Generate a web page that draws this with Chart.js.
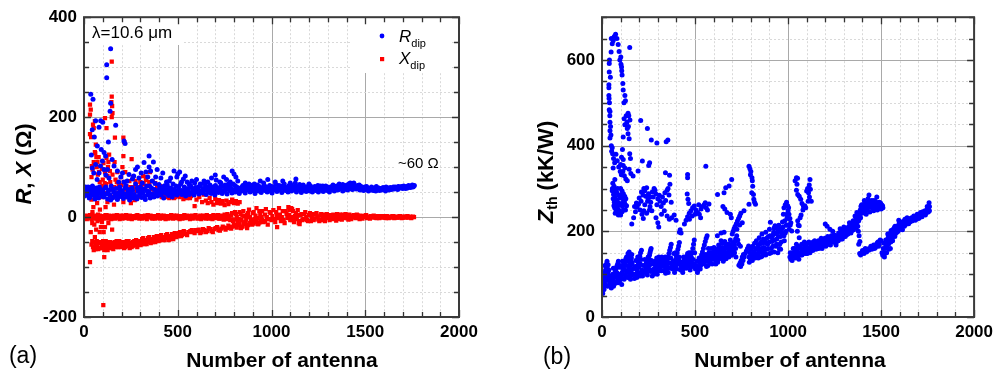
<!DOCTYPE html>
<html><head><meta charset="utf-8">
<script src="https://cdn.jsdelivr.net/npm/chart.js@4.4.1/dist/chart.umd.min.js"></script>
<style>
html,body{margin:0;padding:0;background:#fff;}
#wrap{position:relative;width:998px;height:377px;overflow:hidden;}
canvas{position:absolute;left:0;top:0;}
</style></head><body>
<div id="wrap"><canvas id="ca" width="998" height="377"></canvas><canvas id="cb" width="998" height="377"></canvas></div>
<script>
// ---- tick labels ----
const antennaTicks = [0, 500, 1000, 1500, 2000];
const rxTicks = [-200, 0, 200, 400];
const zTicks = [0, 200, 400, 600];

// ---- series (flat x,y pairs) : antenna number, value ----
const R_DIP = [
5,48, 10,55, 12,44, 18,52, 22,60, 25,46, 30,53, 33,40, 38,57, 42,49, 45,62, 50,44, 55,54, 58,36, 62,50, 66,58, 70,45, 75,53, 78,38, 82,60, 86,48, 90,55, 94,42, 98,51,
0,50, 3,42, 8,60, 15,47, 28,38, 35,50, 52,58, 68,40, 84,54, 96,46,
36,246, 48,236, 142,337, 121,305, 121,279, 142,228, 139,212, 62,193, 89,193, 44,175, 169,184, 213,152, 219,147, 71,142, 39,124, 107,129, 115,122, 347,122, 320,109, 80,180, 100,190, 55,160, 92,135, 130,150,
44,98, 62,105, 80,88, 98,112, 107,95, 116,84, 133,78, 160,102, 178,92, 196,80, 213,70, 240,85, 258,76, 275,95, 293,78, 311,68, 330,90, 347,100, 364,72, 382,80, 400,65, 420,88, 440,70, 462,78, 480,92, 500,86, 520,70, 540,82, 560,66, 600,75, 640,72, 680,78, 700,84, 730,68, 760,75, 790,92, 800,86, 810,80, 820,72, 780,70, 860,68, 900,64, 940,72, 980,75, 1020,70, 1060,72, 1100,68, 1130,76, 1150,65, 1200,66, 1260,62, 1320,60, 1380,65, 1420,68, 1470,62,
52,88, 70,75, 88,102, 125,95, 150,115, 185,70, 205,88, 230,72, 265,82, 285,100, 305,88, 340,80, 355,92, 370,110, 390,95, 410,78, 430,62, 455,72, 475,66, 495,80, 510,90, 530,76, 550,70, 575,72, 590,68, 620,66, 660,70, 705,74, 745,80, 770,66,
100,52, 106,40, 113,58, 119,46, 126,36, 132,54, 139,44, 145,62, 152,38, 158,50, 165,42, 171,57, 178,35, 184,48, 191,60, 197,41, 204,52, 210,37, 217,46, 223,63, 230,40, 236,55, 243,34, 249,49, 256,58, 262,38, 269,45, 275,66, 282,36, 288,52, 295,43, 301,60, 308,39, 314,48, 321,56, 327,35, 334,62, 340,44, 347,50, 353,38, 360,58, 366,46, 373,40, 379,67, 386,52, 392,42, 399,48, 405,60, 412,44, 418,53, 425,38, 431,56, 438,47, 444,64, 451,43, 457,51, 464,58, 470,40, 477,53, 483,46, 490,62, 496,44, 503,55, 509,48, 516,66, 522,45, 529,52, 535,60, 542,42, 548,50, 555,57, 561,45, 568,63, 574,48, 581,53, 587,44, 594,59, 600,50, 607,56, 613,46, 620,62, 626,51, 633,48, 639,67, 646,54, 652,45, 659,58, 665,50, 672,64, 678,47, 685,55, 691,60, 698,44, 704,52, 711,58, 717,49, 724,70, 730,54, 737,47, 743,61, 750,52, 756,57, 763,46, 769,63, 776,53, 782,58, 789,48, 795,66, 802,55, 808,50, 815,60, 821,53, 828,47, 834,58, 841,52, 847,63, 854,55, 860,48, 867,60, 873,54, 880,66, 886,50, 893,58, 899,53, 906,62, 912,47, 919,57, 925,64, 932,52, 938,59, 945,49, 951,56, 958,68, 964,53, 971,60, 977,50, 984,57, 990,63, 997,54, 1003,48, 1010,60, 1016,55, 1023,65, 1029,51, 1036,58, 1042,54, 1049,62, 1055,49, 1062,57, 1068,66, 1075,53, 1081,59, 1088,50, 1094,63, 1101,56, 1107,52, 1114,61, 1120,55, 1127,68, 1133,50, 1140,58, 1146,54, 1153,62, 1159,49, 1166,57, 1172,53, 1179,60, 1185,51, 1192,56, 1198,63, 1205,52, 1211,58, 1218,50, 1224,55, 1231,61, 1237,53, 1244,57, 1250,50, 1257,60, 1263,54, 1270,58, 1276,51, 1283,56, 1289,62, 1296,53, 1302,57, 1309,50, 1315,60, 1322,55, 1328,64, 1335,52, 1341,58, 1348,62, 1354,54, 1361,66, 1367,56, 1374,60, 1380,52, 1387,63, 1393,57, 1400,61, 1406,54, 1413,66, 1419,58, 1426,62, 1432,55, 1439,68, 1445,59, 1452,56, 1458,63, 1465,58, 1471,54, 1478,61, 1484,57, 1491,53, 1497,60, 1504,55, 1510,58, 1517,52, 1523,56, 1530,54, 1536,59, 1543,53, 1549,57, 1556,52, 1562,58, 1569,55, 1575,53, 1582,57, 1588,54, 1595,59, 1601,55, 1608,52, 1614,58, 1621,56, 1627,54, 1634,59, 1640,55, 1647,58, 1653,56, 1660,60, 1666,57, 1673,55, 1679,60, 1686,58, 1692,61, 1699,57, 1705,62, 1712,59, 1718,61, 1725,58, 1731,63, 1738,60, 1744,62, 1751,64, 1757,61, 1762,63,
103,45, 116,60, 129,50, 142,34, 155,55, 168,47, 181,40, 194,55, 207,44, 220,58, 233,48, 246,42, 259,53, 272,40, 285,58, 298,47, 311,54, 324,42, 337,52, 350,62, 363,44, 376,55, 389,47,
403,56, 416,49, 428,62, 441,52, 454,58, 467,47, 480,55, 493,50, 506,61, 519,53, 532,47, 545,56, 558,51, 571,59, 584,49, 597,54, 610,60, 623,52, 636,57, 649,62, 662,53, 675,58, 688,50, 701,63, 714,55, 727,60, 740,51, 753,64, 766,56, 779,61, 792,53, 805,63, 818,57, 831,52, 844,60, 857,64, 870,57, 883,61, 896,55, 909,66, 922,53, 935,61, 948,58, 961,63, 974,56, 987,52, 1000,61, 1013,57, 1026,53, 1039,63, 1052,58, 1065,61, 1078,55, 1091,58, 1104,64, 1117,57, 1130,62, 1143,55, 1156,59, 1169,64, 1182,56, 1195,59, 1208,62, 1221,57, 1234,54, 1247,63, 1260,57, 1273,62, 1286,55, 1299,60, 1312,56, 1325,59, 1338,55, 1351,60, 1364,59, 1377,63, 1390,55, 1403,64, 1416,60, 1429,56, 1442,62, 1455,60, 1468,64, 1481,59, 1494,56, 1507,61, 1520,57, 1533,60, 1546,56, 1559,61, 1572,58, 1585,55, 1598,57, 1611,60, 1624,58, 1637,57, 1650,60, 1663,58, 1676,61, 1689,59, 1702,60, 1715,57, 1728,61, 1741,59, 1754,60
];

const X_DIP = [
32,225, 36,215, 32,205, 32,166, 38,160, 48,185, 52,178, 58,192, 112,198, 120,178, 148,311, 148,241, 146,230, 150,222, 152,208, 148,200, 165,159, 210,159, 215,150, 210,122, 254,116, 103,-176, 32,-90, 108,-80,
60,128, 66,120, 72,110, 42,102, 80,90, 95,96, 120,118, 130,110, 138,92, 100,75, 110,68, 125,82, 160,60, 175,70, 190,52, 200,64, 220,55, 240,45, 265,60, 280,52, 300,70, 315,82, 330,74, 345,62, 360,56, 375,48, 390,60, 325,55, 310,48, 290,40, 270,34, 250,28, 230,40, 210,30, 180,38, 160,25, 140,42, 125,30, 115,20, 95,50, 85,15, 70,28, 60,40, 50,20, 45,10, 75,5, 40,35, 55,-15, 65,-25, 90,-20, 105,-30,
35,60, 40,80, 46,95, 52,110, 58,130, 63,145, 68,100, 74,85, 78,120, 84,70, 88,55, 92,40, 98,62, 104,108, 112,90, 118,66, 124,48, 128,100, 134,125, 140,70, 146,55, 152,85, 158,40, 163,110, 168,75, 172,48, 178,90, 185,62, 192,45, 198,80, 205,100, 212,70, 220,90, 226,62, 234,50, 242,72, 248,60, 256,45, 262,80, 275,72, 286,60, 296,52, 305,62, 318,66, 336,80, 348,70, 352,90, 366,72, 380,68, 395,50, 405,62, 415,40, 425,48, 435,55, 445,46, 455,38, 465,50, 475,44, 485,40, 495,46, 505,42, 515,52, 525,44, 535,48, 545,40, 555,44, 565,38,
36,-30, 44,-12, 58,-40, 72,-8, 84,-30, 96,-10, 112,-20, 130,-12, 150,-25,
400,50, 410,44, 420,56, 430,46, 440,40, 450,52, 460,43, 470,48, 480,38, 490,45, 500,50, 510,40, 520,47, 530,36, 540,44, 550,38, 560,46, 570,42, 590,22, 600,35, 615,40, 630,30, 640,45, 650,33, 660,28, 670,38, 680,30, 690,25, 700,36, 710,28, 720,34, 730,27, 740,32, 750,24, 760,33, 770,26, 780,30, 790,35, 800,28, 810,32, 820,27, 830,30,
0,-3, 10,2, 20,-1, 30,4, 40,-4, 50,1, 60,-2, 70,3, 80,0, 90,-5, 100,2, 110,-1, 120,4, 130,-3, 140,1, 150,-2, 160,3, 170,-1, 180,2, 190,-4, 200,0, 210,3, 220,-2, 230,1, 240,-3, 250,2, 260,0, 270,-2, 280,3, 290,-1, 300,1, 310,-3, 320,2, 330,-1, 340,4, 350,0, 360,-2, 370,2, 380,-3, 390,1, 400,-1, 410,3, 420,-2, 430,0, 440,2, 450,-3, 460,1, 470,-1, 480,3, 490,-2, 500,1, 510,-4, 520,2, 530,0, 540,-2, 550,3, 560,-1, 570,1, 580,-3, 590,2, 600,0, 610,-2, 620,3, 630,-1, 640,1, 650,-3, 660,2, 670,0, 680,-2, 690,4, 700,-1, 710,1, 720,-3, 730,3, 740,-2, 750,5, 760,-4, 770,2, 780,-6, 790,8, 800,-5, 810,6, 820,-8, 830,10, 840,-6, 850,12, 860,-10, 870,4, 880,15, 890,-12, 900,8, 910,-4, 920,18, 930,-14, 940,6, 950,12, 960,-8, 970,16, 980,-15, 990,10, 1000,-6, 1010,14, 1020,-10, 1030,4, 1040,18, 1050,-8, 1060,12, 1070,-12, 1080,6, 1090,20, 1100,-6, 1110,16, 1120,-10, 1130,8, 1140,14, 1150,-8, 1160,6, 1170,-4, 1180,10, 1190,-6, 1200,4, 1210,-8, 1220,6, 1230,-3, 1240,8, 1250,-5, 1260,3, 1270,-6, 1280,5, 1290,-2, 1300,4, 1310,-6, 1320,2, 1330,5, 1340,-3, 1350,6, 1360,-4, 1370,2, 1380,5, 1390,-2, 1400,4, 1410,-5, 1420,3, 1430,1, 1440,4, 1450,-2, 1460,3, 1470,-4, 1480,2, 1490,0, 1500,3, 1510,-2, 1520,1, 1530,2, 1540,-1, 1550,1, 1560,-2, 1570,0, 1580,2, 1590,-1, 1600,1, 1610,-2, 1620,0, 1630,1, 1640,-1, 1650,2, 1660,0, 1670,-1, 1680,1, 1690,0, 1700,-1, 1710,1, 1720,0, 1730,-1, 1740,1, 1750,0, 1760,0,
5,3, 15,-4, 25,2, 35,-2, 45,5, 55,-3, 65,2, 75,-4, 85,3, 95,1, 105,-3, 115,4, 125,-2, 135,3, 145,-4, 155,2, 165,-3, 175,4, 185,-1, 195,3, 205,-3, 215,1, 225,4, 235,-2, 245,3, 255,-4, 265,2, 275,-1, 285,4, 295,-3, 305,2, 315,-1, 325,3, 335,-4, 345,1, 355,3, 365,-3, 375,2, 385,-1, 395,4, 405,-3, 415,1, 425,3, 435,-4, 445,2, 455,-1, 465,4, 475,-3, 485,1, 495,3, 505,-2, 515,2, 525,-3, 535,4, 545,-1, 555,2, 565,-4, 575,3, 585,-1, 595,4, 605,-3, 615,1, 625,-4, 635,3, 645,-1, 655,4, 665,-3, 675,2, 685,-4, 695,3, 705,-2, 715,4, 725,-3, 735,2, 745,-5, 755,3, 765,6, 775,-3, 785,3, 795,-8, 805,10, 815,0, 825,-4, 835,6, 845,3,
1155,4, 1165,-6, 1175,6, 1185,0, 1195,-8, 1205,8, 1215,0, 1225,-6, 1235,5, 1245,0, 1255,-8, 1265,6, 1275,-2, 1285,-8, 1295,6, 1305,0, 1315,4, 1325,-4, 1335,1, 1345,-7, 1355,2, 1365,5, 1375,-5, 1385,2, 1395,6, 1405,-2, 1415,5, 1425,-4, 1435,-1, 1445,2, 1455,5, 1465,-1, 1475,3, 1485,-3, 1495,2, 1505,4, 1515,-1, 1525,-3, 1535,1, 1545,3, 1555,-1, 1565,2, 1575,-2, 1585,0, 1595,2, 1605,-1, 1615,2, 1625,-2, 1635,0, 1645,2, 1655,-2, 1665,1, 1675,-1, 1685,2, 1695,-2, 1705,1, 1715,-1, 1725,2, 1735,0, 1745,-2, 1755,1,
855,2, 865,-4, 875,8, 885,0, 895,-6, 905,10, 915,3, 925,-2, 935,12, 945,0, 955,-10, 965,5, 975,0, 985,-4, 995,8, 1005,2, 1015,-4, 1025,10, 1035,-2, 1045,5, 1055,0, 1065,-6, 1075,12, 1085,-2, 1095,4, 1105,0, 1115,-6, 1125,2, 1135,-4, 1145,4, 1105,18, 1115,12, 1095,14, 1145,-12, 840,-20, 870,-22, 1030,-20, 1150,-14,
40,-55, 48,-60, 56,-50, 62,-64, 70,-58, 78,-52, 86,-62, 94,-56, 102,-48, 110,-60, 118,-54, 126,-66, 134,-50, 142,-58, 150,-62, 158,-52, 166,-57, 174,-48, 182,-60, 190,-54, 198,-50, 206,-58, 214,-62, 222,-52, 230,-56, 238,-48, 246,-54, 254,-60, 262,-50, 270,-55, 278,-46, 286,-52, 294,-48, 302,-56, 310,-44, 318,-50, 326,-46, 334,-54, 342,-42, 350,-48, 358,-44, 366,-50, 374,-40, 382,-46, 390,-42, 398,-48, 406,-38, 414,-44, 422,-40, 430,-46, 438,-36, 446,-42, 454,-38, 462,-44, 470,-34, 478,-40, 486,-36, 494,-33, 502,-38, 512,-30, 522,-36, 532,-28, 542,-34, 560,-30, 575,-26, 590,-32, 605,-28, 620,-32, 635,-24, 650,-30, 665,-22, 680,-28, 695,-24, 710,-20, 725,-27, 740,-19, 755,-25, 770,-17, 785,-23, 800,-15, 815,-21, 830,-13, 845,-19, 860,-11, 875,-16, 890,-8, 905,-13, 920,-6, 935,-11, 950,-5, 965,-9, 980,-4,
44,-48, 52,-66, 60,-54, 68,-48, 76,-64, 84,-50, 92,-62, 100,-54, 108,-66, 116,-48, 124,-58, 132,-62, 140,-50, 148,-56, 156,-64, 164,-50, 172,-60, 180,-52, 188,-48, 196,-60, 204,-52, 212,-50, 220,-60, 228,-48, 236,-58, 244,-62, 252,-52, 260,-58, 268,-48, 276,-56, 284,-60, 292,-54, 300,-48, 308,-54, 316,-42, 324,-54, 332,-48, 340,-50, 348,-40, 356,-52, 364,-46, 372,-44, 380,-50, 388,-38, 396,-44, 404,-46, 412,-36, 420,-46, 428,-42, 436,-40, 444,-34, 452,-46, 460,-40, 468,-38, 476,-44, 484,-32, 492,-40, 500,-35, 507,-32, 517,-38, 527,-32, 537,-30, 550,-36, 567,-28, 582,-30, 597,-26, 612,-25, 627,-30, 642,-26, 657,-28, 672,-24, 687,-30, 702,-22, 717,-26, 732,-23, 747,-21, 762,-22, 777,-20, 792,-19, 807,-18, 822,-16, 837,-22, 852,-14, 867,-18, 882,-12, 897,-15, 912,-10, 927,-14, 942,-8
];

const Z_TH = [
73,660, 55,638, 87,636, 49,619, 149,629, 101,607, 39,592, 39,572, 105,584, 108,565, 37,542, 37,535, 114,530, 123,517, 37,517, 39,484, 43,480, 119,463, 208,459, 140,476, 144,470, 123,449, 43,455, 244,440, 140,428, 43,435, 114,420, 146,416, 43,418, 265,413, 295,406, 345,409, 354,413, 52,387, 57,381, 110,391, 149,381, 153,370, 105,373, 114,368, 100,356, 114,354, 123,348, 60,348, 217,364, 256,360, 251,354, 194,341, 167,329, 341,337, 363,331, 460,333, 460,325, 558,352, 69,321,
40,600, 45,560, 50,650, 60,645, 66,655, 80,650, 92,620, 96,600, 102,590, 106,575, 112,545, 118,500, 126,505, 130,470, 134,455, 136,440, 142,445, 150,460, 38,510, 40,500, 42,470, 46,445, 48,425, 50,400, 55,395, 62,370, 68,360, 75,380, 82,365, 90,350, 98,340, 104,332, 112,340, 120,330, 128,322, 136,318, 146,345, 155,335,
58,312, 65,305, 72,298, 80,290, 62,286, 70,280, 78,274, 85,268, 92,262, 100,300, 108,294, 115,288, 122,282, 128,276, 75,250, 82,244, 88,238, 95,242, 103,265, 110,258, 118,270, 125,262, 55,295, 64,260, 71,242,
56,300, 60,276, 66,268, 74,290, 84,300, 90,285, 96,278, 104,284, 112,276, 120,268, 126,250, 132,260, 68,255, 78,262, 86,252, 92,248, 100,238, 108,246, 116,250,
160,217, 170,232, 180,246, 188,256, 196,263, 205,250, 215,240, 222,230, 210,270, 220,285, 230,295, 240,302, 250,288, 260,280, 270,292, 280,300, 290,287, 300,276, 312,270, 325,280, 338,290, 350,296, 360,285, 230,262, 245,270, 258,258, 268,248, 290,232, 300,220, 305,210, 320,240, 335,248, 350,236, 362,228, 375,232, 388,238, 398,226,
175,258, 185,266, 200,278, 212,292, 225,300, 235,282, 248,276, 262,268, 275,280, 285,296, 295,262, 308,284, 318,258, 330,266, 342,272, 355,300, 365,310, 372,268, 225,248, 240,242, 255,250,
443,217, 452,226, 460,234, 469,242, 478,248, 487,255, 496,259, 505,250, 514,244, 523,240, 532,252, 540,258, 549,262, 560,255, 567,250, 575,264, 555,267, 470,228, 485,236, 500,240, 520,262, 530,232, 416,198, 420,204, 425,196, 458,287, 462,275, 466,265,
621,286, 656,290, 665,302, 683,306, 697,321, 790,352, 795,346, 800,340, 798,332, 806,325, 808,318, 810,305, 805,290, 814,286, 816,275, 820,268, 825,263, 790,263, 763,248,
0,60, 4,55, 6,66, 9,72, 12,80, 14,92, 17,100, 19,110, 21,118, 24,124, 27,130, 30,112, 32,104, 35,96, 38,88, 41,80, 44,76, 47,72, 50,68, 53,74, 30,72, 22,85, 10,95, 16,120,
55,80, 60,86, 64,94, 68,102, 72,108, 76,114, 80,119, 84,124, 88,130, 62,72, 70,78, 78,82, 86,80, 94,84,
100,88, 104,95, 108,104, 112,112, 116,118, 120,124, 124,130, 128,136, 132,140, 140,148, 146,152, 138,92, 150,96, 160,98,
150,100, 152,110, 154,120, 156,130, 158,138, 160,146, 148,140, 143,130,
185,100, 188,110, 191,120, 195,128, 199,136, 203,142, 207,150, 212,156, 195,104, 205,96, 215,100,
240,104, 243,112, 246,120, 249,128, 252,136, 255,144, 258,150, 261,156, 264,160, 232,110,
270,96, 278,100, 286,104, 292,110, 298,116, 304,122, 310,128, 316,134, 322,140, 290,124, 300,132, 310,112, 320,118, 330,108, 340,116,
345,124, 350,132, 355,140, 360,148, 364,156, 368,162, 372,170, 340,140,
390,116, 393,126, 396,134, 400,142, 404,150, 408,158, 412,166, 416,174, 380,112,
435,112, 440,120, 445,128, 450,136, 455,142, 460,148, 465,130, 470,140,
472,120, 476,130, 480,140, 484,150, 488,160, 492,170, 496,180,
515,110, 520,118, 525,128, 530,136, 535,145, 540,152, 545,160, 550,168, 555,176, 560,184, 565,190, 570,140, 575,150,
2,70, 7,85, 11,64, 15,104, 20,75, 25,100, 28,88, 33,122, 37,110, 42,96, 46,84, 51,92, 57,100, 61,114, 66,80, 71,94, 75,98, 79,104, 83,90, 89,100, 93,116, 97,96, 102,120, 106,76, 110,130, 115,100, 119,88, 123,110, 127,96, 131,120, 135,104, 139,136, 144,112, 148,122, 153,88, 157,104, 162,126, 166,112, 170,100, 174,90, 178,118, 182,132, 187,92, 192,140, 197,116, 201,100, 206,124, 210,134, 214,110, 218,96, 222,120, 226,104, 230,134, 235,118, 238,126, 244,98, 248,140, 253,112, 257,122, 262,106, 266,132, 270,110, 274,124, 280,112, 284,130, 288,118, 294,138, 297,100, 302,108, 306,140, 312,120, 318,108, 324,126, 328,136, 332,120, 336,130, 342,102, 346,110, 352,118, 356,104, 362,126, 366,114, 370,138, 376,122, 382,130, 386,148, 390,104, 394,150, 398,120, 402,112, 406,132, 410,124, 414,140, 418,130, 422,110, 426,118, 430,126, 434,104, 438,140, 442,132, 448,118, 452,114, 458,124, 462,118, 467,150, 474,110, 478,150, 482,126, 486,118, 490,134, 494,124, 498,150, 502,112, 506,120, 510,130, 513,104, 518,130, 522,138, 528,112, 533,124, 538,134, 543,126, 548,140, 553,130, 558,146, 562,118, 567,130, 572,160, 577,138, 582,142, 587,160, 592,124, 597,150, 602,162, 607,144, 612,124, 617,156, 622,128, 627,168, 632,148, 637,138, 642,152, 647,172, 652,130, 657,142, 662,160, 667,136, 672,170, 677,150, 682,140, 687,162, 692,156, 697,144, 702,168, 707,160, 712,150, 716,176, 720,140, 724,190, 730,180, 735,170, 744,165,
580,128, 590,134, 600,138, 610,132, 620,140, 630,136, 640,146, 650,140, 660,150, 670,144, 680,152, 690,148, 700,156, 710,150, 718,160, 585,150, 595,144, 605,156, 615,150, 625,160, 635,154, 645,162, 655,156, 665,166, 675,160, 685,170, 695,164, 705,174, 712,168, 640,178, 660,176, 690,180, 718,182, 530,120, 540,128, 550,124, 560,132, 570,120,
700,194, 705,200, 710,206, 716,212, 722,218, 728,224, 734,230, 740,236, 746,242, 725,205, 740,215, 754,220, 695,232, 690,240, 672,244, 660,252, 650,258, 620,190, 640,196, 656,198,
736,121, 742,126, 748,132, 754,140, 760,146, 745,118, 752,124, 758,132, 764,140, 770,148, 776,154, 782,160, 788,166,
790,140, 795,150, 800,158, 805,146, 810,165, 815,152, 820,172, 825,160, 830,178, 835,148, 840,168, 845,185, 850,155, 855,175, 860,194, 865,150, 870,162, 875,180, 880,198, 885,158, 890,170, 895,188, 900,205, 905,221, 910,160, 915,176, 920,192, 925,208, 930,213, 935,165, 940,182, 945,198, 950,214, 955,170, 960,188, 965,204, 970,222, 975,240, 980,178, 985,196, 990,214, 995,232, 1000,248, 1003,255, 978,255, 985,262, 992,268, 998,260, 1005,240, 1010,230, 1015,220, 1020,201, 960,158, 945,150, 925,152, 900,148, 880,145, 860,142, 840,138, 820,142,
792,128, 798,135, 803,142, 808,132, 812,140, 818,150, 823,138, 828,158, 833,145, 838,160, 843,150, 848,170, 853,140, 858,160, 863,172, 868,182, 873,158, 878,148, 883,172, 888,185, 893,160, 898,175, 903,190, 908,150, 913,185, 918,165, 923,198, 928,180, 933,195, 938,170, 943,205, 948,188, 953,160, 958,205, 963,175, 968,195, 973,210, 978,190, 983,225, 988,200, 993,240, 997,215, 1001,230, 1006,205, 1012,215,
1038,318, 1045,325, 1051,324, 1048,310, 1045,296, 1052,286, 1060,282, 1068,275, 1075,265, 1083,258, 1090,260, 1100,294, 1105,300, 1110,290, 1118,321, 1114,308, 1120,298, 1108,270, 1095,255, 1065,232, 1060,213, 1070,238, 1080,250, 1115,280, 1125,270,
1010,140, 1015,135, 1020,145, 1025,150, 1030,142, 1035,160, 1040,138, 1045,170, 1050,155, 1055,145, 1060,185, 1065,150, 1070,160, 1075,145, 1080,170, 1085,152, 1090,165, 1095,148, 1100,158, 1105,172, 1110,150, 1115,162, 1120,155, 1125,168, 1130,160, 1135,175, 1140,162, 1145,170, 1150,158, 1155,165, 1160,172, 1165,160, 1170,168, 1175,178, 1180,165, 1185,172, 1190,180, 1195,168, 1200,175, 1205,170, 1210,182, 1215,172, 1220,178, 1225,186, 1230,175, 1235,182, 1240,190, 1245,178, 1250,185,
1012,150, 1022,132, 1028,160, 1033,148, 1042,152, 1047,140, 1053,165, 1058,135, 1063,162, 1068,145, 1073,170, 1078,155, 1083,148, 1088,175, 1093,158, 1098,165, 1103,148, 1108,160, 1112,175, 1118,150, 1123,162, 1128,172, 1133,155, 1138,168, 1143,178, 1148,164, 1153,172, 1158,160, 1163,178, 1168,162, 1173,170, 1178,184, 1183,160, 1188,170, 1193,176, 1198,184, 1203,165, 1208,178, 1213,188, 1218,170, 1223,180, 1228,168, 1233,190, 1238,176, 1243,185, 1248,192, 1050,200, 1055,215, 1052,225,
1255,172, 1260,180, 1265,190, 1270,178, 1275,185, 1280,195, 1285,182, 1290,190, 1295,200, 1300,188, 1305,195, 1310,205, 1315,192, 1320,200, 1325,210, 1330,198, 1335,206, 1340,215, 1345,202, 1350,210, 1355,222, 1360,208, 1365,218, 1370,230, 1375,212, 1380,225, 1385,240, 1388,250, 1392,258, 1396,262, 1200,217, 1210,212, 1225,205, 1240,200, 1280,206, 1300,210, 1330,220, 1350,225, 1360,236, 1370,244, 1378,200, 1382,190, 1386,176, 1380,170,
1252,180, 1258,168, 1262,176, 1268,188, 1272,196, 1278,182, 1282,188, 1288,200, 1292,182, 1298,196, 1302,204, 1308,188, 1312,198, 1318,208, 1322,194, 1328,202, 1332,214, 1338,196, 1342,206, 1348,218, 1352,204, 1358,214, 1362,226, 1368,210, 1372,222, 1377,234, 1383,230, 1387,245, 1390,232,
1394,260, 1400,250, 1406,256, 1412,263, 1418,248, 1424,258, 1429,267, 1435,285, 1440,262, 1447,263, 1452,255, 1458,268, 1465,260, 1470,252, 1477,280, 1483,260, 1488,256, 1494,264, 1500,260, 1505,258, 1510,255, 1420,240, 1440,245, 1460,248, 1480,250, 1500,252, 1410,272, 1430,276, 1450,272, 1470,270, 1490,268,
1398,242, 1404,262, 1408,248, 1414,258, 1422,266, 1427,252, 1432,262, 1438,270, 1444,256, 1449,266, 1455,260, 1462,272, 1467,256, 1472,262, 1480,266, 1486,262, 1492,258, 1497,266, 1503,262, 1508,260,
1385,148, 1395,150, 1403,151, 1410,154, 1418,156, 1429,159, 1440,160, 1456,163, 1465,160, 1474,167, 1483,175, 1490,170, 1500,178, 1509,144, 1514,150, 1518,140, 1522,160, 1527,168, 1530,150, 1536,194, 1540,170, 1545,180, 1550,160, 1554,202, 1560,185, 1565,192, 1572,209, 1578,195, 1583,200, 1589,213, 1595,205, 1600,215, 1607,221, 1612,210, 1618,218, 1625,225, 1630,215, 1636,222, 1643,225, 1648,218, 1655,222, 1660,229, 1666,224, 1672,230, 1678,232, 1684,226, 1690,232, 1696,236, 1702,230, 1708,238, 1714,240, 1720,234, 1726,240, 1732,244, 1738,238, 1744,246, 1749,252, 1754,245, 1758,267, 1760,258, 1535,175, 1545,188, 1555,195, 1565,205, 1575,212, 1585,198, 1595,226, 1605,210, 1615,204, 1625,212, 1640,232,
1390,145, 1400,155, 1408,148, 1415,160, 1422,152, 1434,156, 1445,165, 1450,158, 1460,168, 1470,162, 1478,172, 1487,165, 1495,180, 1505,150, 1512,160, 1516,172, 1520,148, 1525,180, 1532,165, 1538,185, 1542,158, 1548,195, 1552,175, 1558,200, 1562,178, 1568,198, 1574,188, 1580,206, 1586,210, 1592,200, 1598,220, 1603,208, 1610,222, 1616,215, 1622,220, 1628,228, 1634,218, 1638,228, 1646,230, 1652,228, 1658,224, 1664,232, 1670,226, 1676,236, 1682,232, 1688,228, 1694,240, 1700,236, 1706,232, 1712,244, 1718,238, 1724,246, 1730,240, 1736,248, 1742,242, 1748,258, 1752,250, 1756,256, 1760,248
];

function pairs(a){ const o=[]; for(let i=0;i<a.length;i+=2) o.push({x:a[i], y:a[i+1]}); return o; }

const FONT = "Arial, 'Liberation Sans', sans-serif";
const BLUE = '#0000ff', RED = '#ff0000';

function drawRuns(ctx, parts, x, y, rot, align){
  ctx.save();
  ctx.translate(x, y);
  if (rot) ctx.rotate(rot);
  ctx.textBaseline = 'middle';
  ctx.fillStyle = '#000';
  let w = 0;
  parts.forEach(p => { ctx.font = p.f + ' ' + FONT; w += ctx.measureText(p.t).width + (p.dx||0); });
  let cx = align === 'center' ? -w/2 : 0;
  parts.forEach(p => {
    ctx.font = p.f + ' ' + FONT;
    cx += (p.dx||0);
    ctx.textAlign = 'left';
    ctx.fillText(p.t, cx, p.dy||0);
    cx += ctx.measureText(p.t).width;
  });
  ctx.restore();
}

const deco = {
  id: 'deco',
  beforeDatasetsDraw(chart, args, o){
    const ctx = chart.ctx, a = chart.chartArea, xs = chart.scales.x, ys = chart.scales.y;
    ctx.save();
    ctx.lineWidth = 1;
    for (let v = xs.min + o.xStep; v < xs.max; v += o.xStep){
      const p = Math.round(xs.getPixelForValue(v)) + 0.5;
      const major = v % o.xMajor === 0;
      ctx.strokeStyle = major ? '#a9a9a9' : '#d9d9d9';
      ctx.setLineDash(major ? [] : [2,2]);
      ctx.beginPath(); ctx.moveTo(p, a.top); ctx.lineTo(p, a.bottom); ctx.stroke();
    }
    for (let v = ys.min + o.yStep; v < ys.max; v += o.yStep){
      const p = Math.round(ys.getPixelForValue(v)) + 0.5;
      const major = Math.abs(v % o.yMajor) === 0;
      ctx.strokeStyle = major ? '#a9a9a9' : '#d9d9d9';
      ctx.setLineDash(major ? [] : [2,2]);
      ctx.beginPath(); ctx.moveTo(a.left, p); ctx.lineTo(a.right, p); ctx.stroke();
    }
    ctx.setLineDash([]);
    ctx.fillStyle = '#fff';
    (o.boxes||[]).forEach(b => ctx.fillRect(b[0], b[1], b[2], b[3]));
    ctx.restore();
  },
  afterDatasetsDraw(chart, args, o){
    const ctx = chart.ctx, a = chart.chartArea, xs = chart.scales.x, ys = chart.scales.y;
    ctx.save();
    ctx.strokeStyle = '#333';
    ctx.lineWidth = 1.3;
    for (let v = xs.min; v <= xs.max; v += o.xStep){
      const p = Math.round(xs.getPixelForValue(v)) + 0.5;
      const len = v % o.xMajor === 0 ? 7 : 5;
      ctx.beginPath();
      ctx.moveTo(p, a.bottom); ctx.lineTo(p, a.bottom - len);
      ctx.moveTo(p, a.top); ctx.lineTo(p, a.top + len);
      ctx.stroke();
    }
    for (let v = ys.min; v <= ys.max; v += o.yStep){
      const p = Math.round(ys.getPixelForValue(v)) + 0.5;
      const len = Math.abs(v % o.yMajor) === 0 ? 7 : 5;
      ctx.beginPath();
      ctx.moveTo(a.left, p); ctx.lineTo(a.left + len, p);
      ctx.moveTo(a.right, p); ctx.lineTo(a.right - len, p);
      ctx.stroke();
    }
    ctx.lineWidth = 2;
    ctx.strokeStyle = '#3a3a3a';
    ctx.strokeRect(a.left, a.top, a.right - a.left, a.bottom - a.top);
    (o.markers||[]).forEach(m => {
      ctx.fillStyle = m.c;
      if (m.s === 'circle'){ ctx.beginPath(); ctx.arc(m.x, m.y, 2.4, 0, Math.PI*2); ctx.fill(); }
      else ctx.fillRect(m.x - 2, m.y - 2, 4.2, 4.2);
    });
    (o.texts||[]).forEach(t => drawRuns(ctx, t.parts, t.x, t.y, t.rot||0, t.align||'left'));
    ctx.restore();
  }
};

function makeChart(id, datasets, yMin, yMax, yTicks, padding, yWidth, decoOpts){
  return new Chart(document.getElementById(id), {
    type: 'scatter',
    data: { datasets },
    plugins: [deco],
    options: {
      responsive: false, animation: false, devicePixelRatio: 1,
      layout: { padding },
      events: [],
      plugins: { legend: {display:false}, tooltip: {enabled:false}, deco: decoOpts },
      scales: {
        x: {
          type: 'linear', min: 0, max: 2000,
          afterBuildTicks: s => { s.ticks = antennaTicks.map(v => ({value: v})); },
          afterFit: s => { s.height = 60; },
          grid: {display:false, drawTicks:false}, border: {display:false},
          ticks: { color:'#000', padding: 5, maxRotation: 0, autoSkip: false,
                   font: {family: FONT, size: 17, weight: 'bold'}, callback: v => String(v) }
        },
        y: {
          type: 'linear', min: yMin, max: yMax,
          afterBuildTicks: s => { s.ticks = yTicks.map(v => ({value: v})); },
          afterFit: s => { s.width = yWidth; },
          grid: {display:false, drawTicks:false}, border: {display:false},
          ticks: { color:'#000', padding: 7, autoSkip: false,
                   font: {family: FONT, size: 17, weight: 'bold'}, callback: v => String(v) }
        }
      }
    }
  });
}

makeChart('ca', [
  { label: 'R_dip', data: pairs(R_DIP), pointStyle: 'circle', pointRadius: 2.5, backgroundColor: BLUE, borderWidth: 0 },
  { label: 'X_dip', data: pairs(X_DIP), pointStyle: 'rect', pointRadius: 3.0, backgroundColor: RED, borderWidth: 0 }
], -200, 400, rxTicks, {left:0, top:15, right:539, bottom:0}, 84, {
  xStep: 100, xMajor: 500, yStep: 50, yMajor: 200,
  boxes: [[86,17,96,28],[352,17,98,56],[394,155,46,18]],
  markers: [{s:'circle', c:BLUE, x:382, y:36},{s:'rect', c:RED, x:382, y:59}],
  texts: [
    {parts:[{t:'R', f:'italic bold 22px'},{t:', ', f:'bold 22px'},{t:'X', f:'italic bold 22px'},{t:' (\u03A9)', f:'bold 22px'}], x:25, y:164, rot:-Math.PI/2, align:'center'},
    {parts:[{t:'Number of antenna', f:'bold 21px'}], x:282, y:361, align:'center'},
    {parts:[{t:'(a)', f:'23px'}], x:23, y:357, align:'center'},
    {parts:[{t:'\u03BB=10.6 \u03BCm', f:'17px'}], x:92, y:33},
    {parts:[{t:'R', f:'italic 17px'},{t:'dip', f:'11px', dy:7}], x:399, y:37},
    {parts:[{t:'X', f:'italic 17px'},{t:'dip', f:'11px', dy:7}], x:399, y:59},
    {parts:[{t:'~60 \u03A9', f:'15px'}], x:398, y:164}
  ]
});

makeChart('cb', [
  { label: 'Z_th', data: pairs(Z_TH), pointStyle: 'circle', pointRadius: 2.5, backgroundColor: BLUE, borderWidth: 0 }
], 0, 700, zTicks, {left:499, top:15, right:21, bottom:0}, 103, {
  xStep: 100, xMajor: 500, yStep: 50, yMajor: 200,
  texts: [
    {parts:[{t:'Z', f:'italic bold 22px'},{t:'th', f:'bold 14px', dy:6},{t:' (kK/W)', f:'bold 22px'}], x:547, y:172, rot:-Math.PI/2, align:'center'},
    {parts:[{t:'Number of antenna', f:'bold 21px'}], x:790, y:361, align:'center'},
    {parts:[{t:'(b)', f:'23px'}], x:557, y:358, align:'center'}
  ]
});
</script>
</body></html>
